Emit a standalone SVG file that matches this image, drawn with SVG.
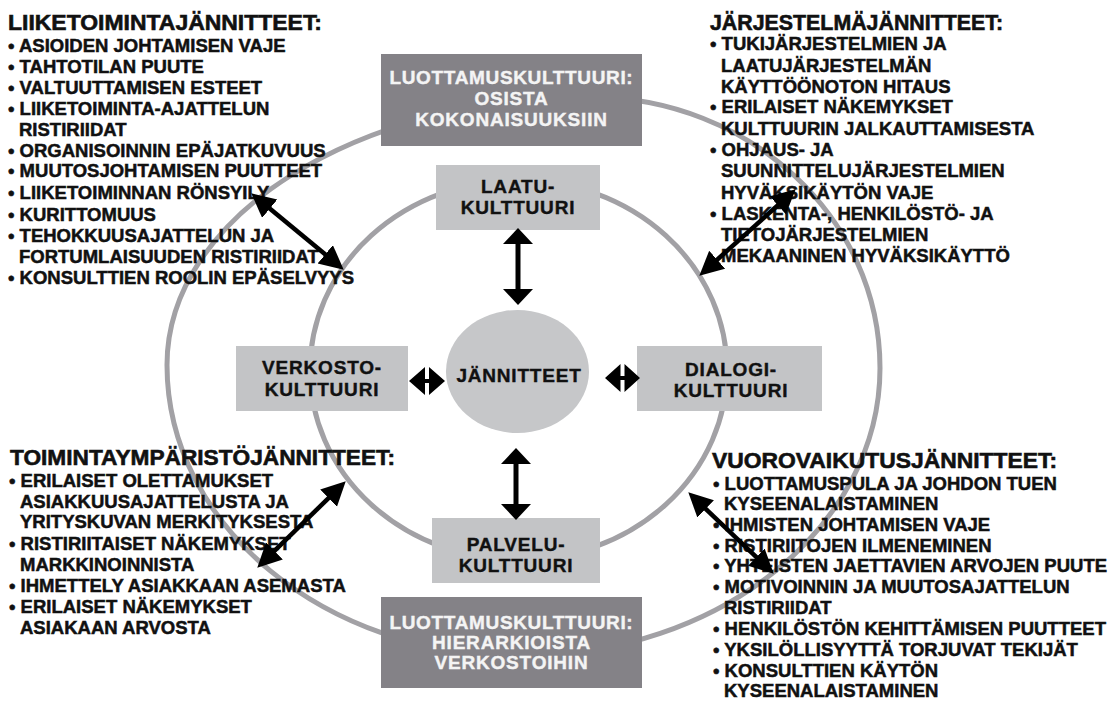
<svg xmlns="http://www.w3.org/2000/svg" width="1120" height="702" viewBox="0 0 1120 702">
<defs>
<style>
.t{font-family:"Liberation Sans",Arial,sans-serif;font-weight:bold;font-size:18.5px;fill:#111;stroke:#111;stroke-width:0.5}
.h{font-family:"Liberation Sans",Arial,sans-serif;font-weight:bold;font-size:22px;fill:#111;stroke:#111;stroke-width:0.6}
.b{font-family:"Liberation Sans",Arial,sans-serif;font-weight:bold;font-size:19px;letter-spacing:0.8px;fill:#111;stroke:#111;stroke-width:0.4;text-anchor:middle}
.w{fill:#f4f4f4;stroke:#f4f4f4}
.ring{fill:none;stroke:#a2a1a5;stroke-width:5}
.dark{fill:#848287}
.light{fill:#c3c4c6}
.arr{stroke:#000;stroke-width:4.5;fill:none;marker-start:url(#ah);marker-end:url(#ah)}
.arrc{stroke:#000;stroke-width:5;fill:none;marker-start:url(#ahc);marker-end:url(#ahc)}
</style>
<marker id="ah" markerUnits="userSpaceOnUse" markerWidth="26" markerHeight="26" refX="15" refY="12" orient="auto-start-reverse"><path d="M0,0 L24,12 L0,24 Z" fill="#000"/></marker>
<marker id="ahc" markerUnits="userSpaceOnUse" markerWidth="32" markerHeight="32" refX="10" refY="15" orient="auto-start-reverse"><path d="M0,0 L16,15 L0,30 Z" fill="#000"/></marker>
</defs>
<rect width="1120" height="702" fill="#fff"/>
<g id="rings">
<path class="ring" d="M167,365 C167,217 356,97 590,97 C750,97 880,218 880,368 C880,527 719,656 520,656 C325,656 167,526 167,365 Z"/>
<ellipse class="ring" cx="518.5" cy="370" rx="208.5" ry="190"/>
</g>
<g id="top-box"><rect class="dark" x="381" y="54" width="261" height="92"/>
<text class="b w" x="511.5" y="84" textLength="244">LUOTTAMUSKULTTUURI:</text>
<text class="b w" x="511.5" y="105">OSISTA</text>
<text class="b w" x="511.5" y="126">KOKONAISUUKSIIN</text></g>
<g id="laatu"><rect class="light" x="436" y="165" width="164" height="65"/>
<text class="b" x="518" y="193">LAATU-</text><text class="b" x="518" y="214">KULTTUURI</text></g>
<g id="verkosto"><rect class="light" x="236" y="346" width="172" height="65"/>
<text class="b" x="322" y="374">VERKOSTO-</text><text class="b" x="322" y="396">KULTTUURI</text></g>
<g id="dialogi"><rect class="light" x="637" y="346" width="185" height="65"/>
<text class="b" x="731" y="376">DIALOGI-</text><text class="b" x="731" y="397">KULTTUURI</text></g>
<g id="palvelu"><rect class="light" x="432" y="518" width="168" height="65"/>
<text class="b" x="516" y="551">PALVELU-</text><text class="b" x="516" y="572">KULTTUURI</text></g>
<g id="bottom-box"><rect class="dark" x="381" y="597" width="261" height="91"/>
<text class="b w" x="511.5" y="629" textLength="244">LUOTTAMUSKULTTUURI:</text>
<text class="b w" x="511.5" y="649">HIERARKIOISTA</text>
<text class="b w" x="511.5" y="669">VERKOSTOIHIN</text></g>
<g id="jannitteet"><ellipse cx="517.5" cy="371.5" rx="71.5" ry="61.5" fill="#c6c7c9"/>
<text class="b" x="519" y="382">JÄNNITTEET</text></g>
<g id="liiketoiminta">
<text class="h" x="8" y="30" textLength="314" lengthAdjust="spacingAndGlyphs">LIIKETOIMINTAJÄNNITTEET:</text>
<text class="t" x="8" y="52">• ASIOIDEN JOHTAMISEN VAJE</text>
<text class="t" x="8" y="73">• TAHTOTILAN PUUTE</text>
<text class="t" x="8" y="94">• VALTUUTTAMISEN ESTEET</text>
<text class="t" x="8" y="115">• LIIKETOIMINTA-AJATTELUN</text>
<text class="t" x="19" y="136">RISTIRIIDAT</text>
<text class="t" x="8" y="157">• ORGANISOINNIN EPÄJATKUVUUS</text>
<text class="t" x="8" y="177">• MUUTOSJOHTAMISEN PUUTTEET</text>
<text class="t" x="8" y="199">• LIIKETOIMINNAN RÖNSYILY</text>
<text class="t" x="8" y="221">• KURITTOMUUS</text>
<text class="t" x="8" y="242">• TEHOKKUUSAJATTELUN JA</text>
<text class="t" x="19" y="263">FORTUMLAISUUDEN RISTIRIIDAT</text>
<text class="t" x="8" y="284">• KONSULTTIEN ROOLIN EPÄSELVYYS</text>
</g>
<g id="jarjestelma">
<text class="h" x="710" y="30" textLength="293" lengthAdjust="spacingAndGlyphs">JÄRJESTELMÄJÄNNITTEET:</text>
<text class="t" x="710" y="50">• TUKIJÄRJESTELMIEN JA</text>
<text class="t" x="721" y="72">LAATUJÄRJESTELMÄN</text>
<text class="t" x="721" y="93">KÄYTTÖÖNOTON HITAUS</text>
<text class="t" x="710" y="113">• ERILAISET NÄKEMYKSET</text>
<text class="t" x="721" y="135">KULTTUURIN JALKAUTTAMISESTA</text>
<text class="t" x="710" y="156">• OHJAUS- JA</text>
<text class="t" x="721" y="177">SUUNNITTELUJÄRJESTELMIEN</text>
<text class="t" x="721" y="199">HYVÄKSIKÄYTÖN VAJE</text>
<text class="t" x="710" y="220">• LASKENTA-, HENKILÖSTÖ- JA</text>
<text class="t" x="721" y="241">TIETOJÄRJESTELMIEN</text>
<text class="t" x="721" y="262">MEKAANINEN HYVÄKSIKÄYTTÖ</text>
</g>
<g id="toimintaymparisto">
<text class="h" x="10" y="465" textLength="385" lengthAdjust="spacingAndGlyphs">TOIMINTAYMPÄRISTÖJÄNNITTEET:</text>
<text class="t" x="9" y="487">• ERILAISET OLETTAMUKSET</text>
<text class="t" x="20" y="508">ASIAKKUUSAJATTELUSTA JA</text>
<text class="t" x="20" y="528">YRITYSKUVAN MERKITYKSESTA</text>
<text class="t" x="9" y="550">• RISTIRIITAISET NÄKEMYKSET</text>
<text class="t" x="20" y="571">MARKKINOINNISTA</text>
<text class="t" x="9" y="592">• IHMETTELY ASIAKKAAN ASEMASTA</text>
<text class="t" x="9" y="613">• ERILAISET NÄKEMYKSET</text>
<text class="t" x="20" y="634">ASIAKAAN ARVOSTA</text>
</g>
<g id="vuorovaikutus">
<text class="h" x="712" y="468" textLength="345" lengthAdjust="spacingAndGlyphs">VUOROVAIKUTUSJÄNNITTEET:</text>
<text class="t" x="713" y="490">• LUOTTAMUSPULA JA JOHDON TUEN</text>
<text class="t" x="724" y="510">KYSEENALAISTAMINEN</text>
<text class="t" x="713" y="531">• IHMISTEN JOHTAMISEN VAJE</text>
<text class="t" x="713" y="552">• RISTIRIITOJEN ILMENEMINEN</text>
<text class="t" x="713" y="572">• YHTEISTEN JAETTAVIEN ARVOJEN PUUTE</text>
<text class="t" x="713" y="593">• MOTIVOINNIN JA MUUTOSAJATTELUN</text>
<text class="t" x="724" y="614">RISTIRIIDAT</text>
<text class="t" x="713" y="635">• HENKILÖSTÖN KEHITTÄMISEN PUUTTEET</text>
<text class="t" x="713" y="656">• YKSILÖLLISYYTTÄ TORJUVAT TEKIJÄT</text>
<text class="t" x="713" y="677">• KONSULTTIEN KÄYTÖN</text>
<text class="t" x="724" y="697">KYSEENALAISTAMINEN</text>
</g>
<g id="connectors">
<path class="arr" d="M258.2,199.1 L336.8,263.9"/>
<path class="arr" d="M789,195.3 L706,269.7"/>
<path class="arr" d="M339.3,487.6 L263.7,561.4"/>
<path class="arr" d="M694.8,498.5 L767.2,567.5"/>
<path class="arrc" d="M518,234 L518,299"/>
<path class="arrc" d="M516,454 L516,514"/>
<path d="M409,381 L425,367 L425,395 Z M445,381 L429,367 L429,395 Z M425,379 H429 V383 H425 Z" fill="#000"/>
<path d="M605,378 L620.5,364 L620.5,392 Z M640,378 L624.5,364 L624.5,392 Z M620.5,376 H624.5 V380 H620.5 Z" fill="#000"/>
</g>
</svg>
